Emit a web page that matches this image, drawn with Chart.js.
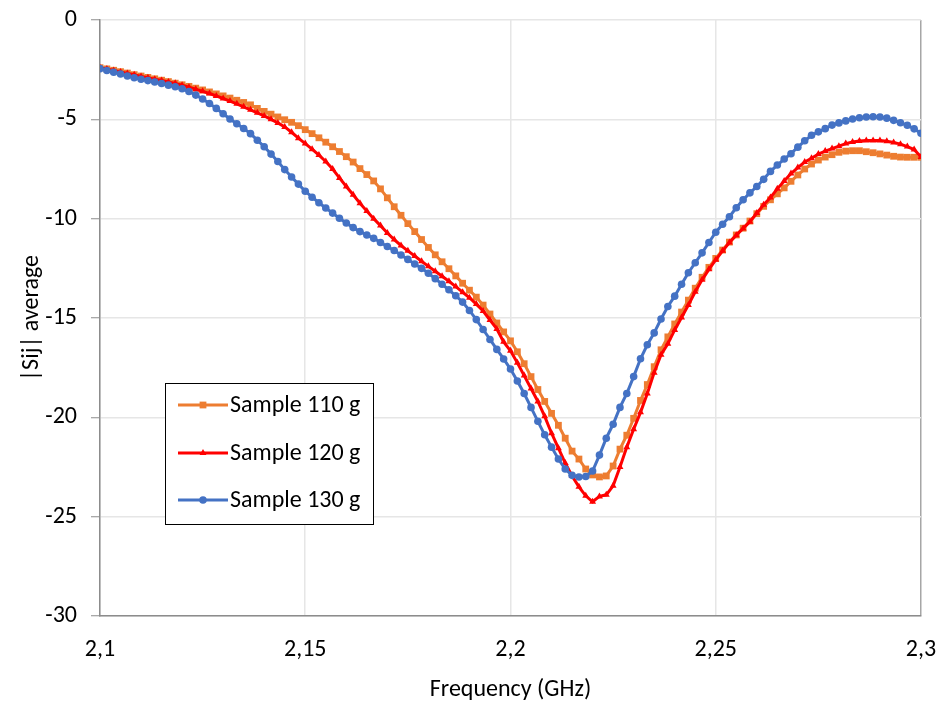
<!DOCTYPE html>
<html>
<head>
<meta charset="utf-8">
<script src="https://cdn.jsdelivr.net/npm/chart.js@4"></script>
<style>
  html, body { margin: 0; padding: 0; background: #ffffff; }
  #wrap { width: 944px; height: 708px; }
</style>
</head>
<body>
<div id="wrap"><canvas id="c" width="944" height="708"></canvas></div>
<script>
// Frequency sweep: 121 points from 2.1 to 2.3 GHz
const freqStart = 2.1;
const freqStep = 0.2 / 120;
const frequency = Array.from({ length: 121 }, (_, i) => +(freqStart + i * freqStep).toFixed(5));

const seriesNames = ["Sample 110 g", "Sample 120 g", "Sample 130 g"];

const sample110 = [
  -2.40, -2.46, -2.53, -2.60, -2.67, -2.75, -2.82, -2.89, -2.96, -3.03,
  -3.10, -3.18, -3.26, -3.34, -3.43, -3.52, -3.62, -3.72, -3.82, -3.93,
  -4.04, -4.15, -4.27, -4.45, -4.60, -4.74, -4.88, -5.02, -5.15, -5.32,
  -5.52, -5.72, -5.93, -6.15, -6.38, -6.62, -6.88, -7.15, -7.48, -7.78,
  -8.10, -8.50, -8.95, -9.40, -9.83, -10.25, -10.65, -11.05, -11.45, -11.82,
  -12.17, -12.52, -12.88, -13.25, -13.60, -13.95, -14.35, -14.80, -15.25, -15.70,
  -16.15, -16.70, -17.30, -17.95, -18.60, -19.20, -19.80, -20.40, -21.05, -21.70,
  -22.10, -22.60, -22.90, -23.00, -22.95, -22.45, -21.60, -20.90, -20.05, -19.15,
  -18.35, -17.45, -16.60, -15.95, -15.30, -14.70, -14.10, -13.50, -12.95, -12.45,
  -12.00, -11.58, -11.18, -10.82, -10.48, -10.12, -9.75, -9.38, -9.05, -8.75,
  -8.45, -8.12, -7.80, -7.50, -7.25, -7.05, -6.90, -6.78, -6.66, -6.60,
  -6.58, -6.58, -6.63, -6.68, -6.74, -6.80, -6.86, -6.90, -6.91, -6.91,
  -6.91
];

const sample120 = [
  -2.40, -2.47, -2.54, -2.62, -2.69, -2.76, -2.84, -2.91, -2.98, -3.05,
  -3.12, -3.19, -3.28, -3.38, -3.48, -3.59, -3.70, -3.82, -3.95, -4.08,
  -4.22, -4.37, -4.52, -4.67, -4.83, -5.00, -5.18, -5.38, -5.65, -5.95,
  -6.22, -6.50, -6.80, -7.12, -7.50, -7.95, -8.38, -8.80, -9.22, -9.62,
  -10.00, -10.35, -10.72, -11.05, -11.35, -11.62, -11.88, -12.14, -12.40, -12.65,
  -12.90, -13.15, -13.42, -13.70, -13.98, -14.30, -14.65, -15.10, -15.55, -16.20,
  -16.65, -17.25, -17.90, -18.55, -19.20, -19.95, -20.80, -21.55, -22.30, -22.95,
  -23.50, -23.95, -24.25, -23.98, -23.90, -23.45, -22.50, -21.50, -20.60, -19.75,
  -18.80, -17.75, -16.85, -16.30, -15.60, -14.98, -14.35, -13.68, -13.08, -12.55,
  -12.07, -11.62, -11.20, -10.83, -10.49, -10.15, -9.72, -9.30, -8.93, -8.50,
  -8.10, -7.73, -7.43, -7.15, -6.96, -6.75, -6.60, -6.47, -6.35, -6.22,
  -6.14, -6.09, -6.07, -6.07, -6.07, -6.10, -6.16, -6.25, -6.37, -6.52,
  -6.90
];

const sample130 = [
  -2.45, -2.54, -2.63, -2.72, -2.82, -2.91, -2.98, -3.05, -3.12, -3.20,
  -3.28, -3.36, -3.46, -3.60, -3.78, -3.98, -4.20, -4.45, -4.72, -4.98,
  -5.22, -5.46, -5.72, -6.05, -6.38, -6.75, -7.12, -7.53, -7.90, -8.26,
  -8.62, -8.92, -9.20, -9.46, -9.72, -9.98, -10.22, -10.45, -10.65, -10.82,
  -10.99, -11.20, -11.40, -11.60, -11.83, -12.05, -12.28, -12.50, -12.75, -13.02,
  -13.30, -13.58, -13.88, -14.20, -14.62, -15.08, -15.58, -16.08, -16.58, -17.06,
  -17.57, -18.17, -18.80, -19.50, -20.20, -20.88, -21.50, -22.10, -22.60, -22.92,
  -23.00, -22.98, -22.70, -21.90, -21.05, -20.35, -19.50, -18.80, -17.95, -17.05,
  -16.35, -15.75, -15.05, -14.42, -13.90, -13.30, -12.72, -12.22, -11.72, -11.20,
  -10.68, -10.28, -9.90, -9.45, -9.05, -8.70, -8.38, -8.02, -7.62, -7.30,
  -7.00, -6.73, -6.40, -6.08, -5.80, -5.63, -5.47, -5.29, -5.18, -5.08,
  -4.98, -4.92, -4.88, -4.87, -4.88, -4.94, -5.05, -5.17, -5.30, -5.48,
  -5.70
];

const xTicks = [2.1, 2.15, 2.2, 2.25, 2.3];
const yTicks = [0, -5, -10, -15, -20, -25, -30];

const FONT = "Carlito, Lato, 'Liberation Sans', sans-serif";
const FS = 24;
const colors = ["#ED7D31", "#FF0000", "#4472C4"];
const styles = ["rect", "triangle", "circle"];
const radii = [4.8, 4.0, 3.8];
const values = [sample110, sample120, sample130];

function toPoints(vals) {
  return vals.map((v, i) => ({ x: frequency[i], y: v }));
}

const datasets = seriesNames.map((name, k) => ({
  label: name,
  data: toPoints(values[k]),
  borderColor: colors[k],
  backgroundColor: colors[k],
  borderWidth: 3,
  pointStyle: styles[k],
  pointRadius: radii[k],
  pointBorderWidth: 0,
  pointHoverRadius: radii[k],
  tension: 0,
  order: 3 - k
}));

const boxLegend = {
  id: "boxLegend",
  afterDraw(chart) {
    const ctx = chart.ctx;
    const a = chart.chartArea;
    const left = a.left + 65, top = a.top + 363, w = 208, h = 141;
    ctx.save();
    ctx.fillStyle = "#ffffff";
    ctx.fillRect(left, top, w, h);
    ctx.strokeStyle = "#000000";
    ctx.lineWidth = 1;
    ctx.strokeRect(left + 0.5, top + 0.5, w, h);
    ctx.font = FS + "px " + FONT;
    ctx.textBaseline = "middle";
    ctx.textAlign = "left";
    const rows = [22, 70, 117];
    chart.data.datasets.forEach((ds, k) => {
      const yy = top + rows[k];
      ctx.strokeStyle = ds.borderColor;
      ctx.lineWidth = 3;
      ctx.beginPath();
      ctx.moveTo(left + 13, yy);
      ctx.lineTo(left + 63, yy);
      ctx.stroke();
      ctx.fillStyle = ds.backgroundColor;
      Chart.helpers.drawPoint(ctx, { pointStyle: ds.pointStyle, radius: ds.pointRadius, rotation: 0, borderWidth: 0 }, left + 38, yy);
      ctx.fillStyle = "#000000";
      ctx.fillText(ds.label, left + 65, yy + 1);
    });
    ctx.restore();
  }
};

new Chart(document.getElementById("c"), {
  type: "line",
  data: { datasets },
  plugins: [boxLegend],
  options: {
    responsive: false,
    animation: false,
    layout: { padding: { left: 0, right: 23, top: 20, bottom: 0 } },
    plugins: { legend: { display: false }, tooltip: { enabled: false } },
    scales: {
      x: {
        type: "linear",
        min: 2.1,
        max: 2.3,
        afterFit(axis) { axis.height = 92; axis.paddingLeft = 0; axis.paddingRight = 0; },
        afterBuildTicks(axis) { axis.ticks = xTicks.map(v => ({ value: v })); },
        ticks: {
          padding: 20,
          maxRotation: 0,
          color: "#000000",
          font: { family: FONT, size: FS },
          callback: v => String(Math.round(v * 100) / 100).replace(".", ",")
        },
        grid: {
          drawTicks: false,
          color: ctx => (ctx.tick && Math.abs(ctx.tick.value - 2.3) < 1e-9) ? "#a6a6a6" : "#e6e6e6",
          lineWidth: 1.5
        },
        border: { color: "#8c8c8c", width: 1.5 },
        title: {
          display: true,
          text: "Frequency (GHz)",
          color: "#000000",
          font: { family: FONT, size: FS },
          padding: { top: 0, bottom: 4 }
        }
      },
      y: {
        type: "linear",
        min: -30,
        max: 0,
        afterFit(axis) { axis.width = 100; axis.paddingTop = 0; axis.paddingBottom = 0; },
        afterBuildTicks(axis) { axis.ticks = yTicks.map(v => ({ value: v })); },
        ticks: {
          padding: 14,
          color: "#000000",
          font: { family: FONT, size: FS }
        },
        grid: {
          color: "#e6e6e6",
          lineWidth: 1.5,
          tickLength: 9,
          tickColor: "#8c8c8c",
          tickWidth: 1
        },
        border: { color: "#8c8c8c", width: 1.5 },
        title: {
          display: true,
          text: "|Sij| average",
          color: "#000000",
          font: { family: FONT, size: FS },
          padding: { top: 18, bottom: 0 }
        }
      }
    }
  }
});
</script>
</body>
</html>
